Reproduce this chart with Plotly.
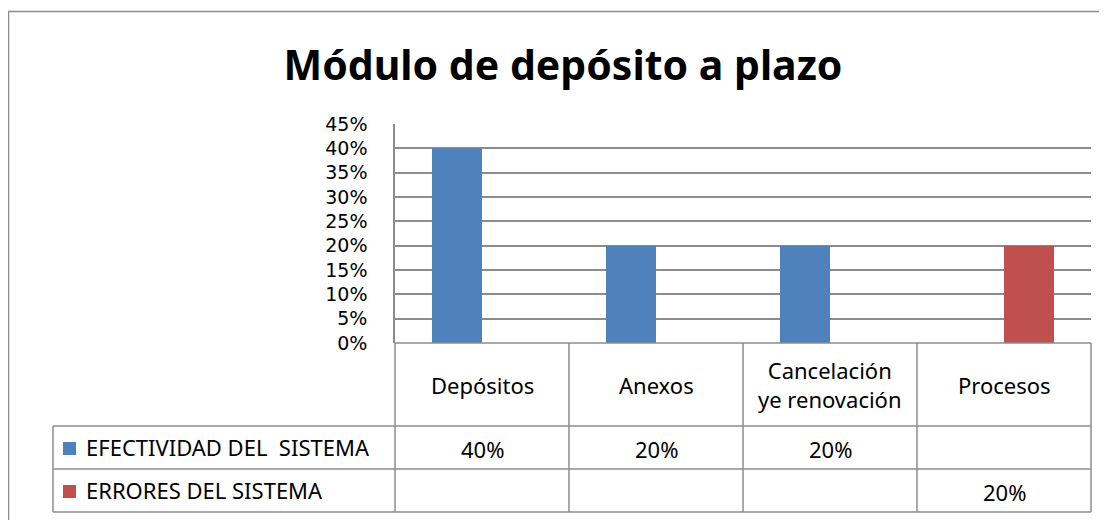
import plotly.graph_objects as go

# ---- data ----
categories = ["Depósitos", "Anexos", "Cancelación<br>ye renovación", "Procesos"]
series_names = ["EFECTIVIDAD DEL  SISTEMA", "ERRORES DEL SISTEMA"]
efectividad = [0.40, 0.20, 0.20, None]
errores = [None, None, None, 0.20]
tick_vals = [0, 0.05, 0.10, 0.15, 0.20, 0.25, 0.30, 0.35, 0.40, 0.45]
tick_text = ["0%", "5%", "10%", "15%", "20%", "25%", "30%", "35%", "40%", "45%"]
title_text = "Módulo de depósito a plazo"

colors = ["#4F81BD", "#C0504D"]
FONT = "Noto Sans"
GRID = "#8c8c8c"

# page body has an 8px margin: work in screen pixels, convert to figure pixels
OFF = 8
W, H = 1107 - OFF, 520 - OFF
L, R, T, B = 395, 1091, 124, 343  # screen pixels of plot area


def px(x):
    return (x - L) / (R - L)


def py(y):
    return (B - y) / (B - T)


x_idx = list(range(len(categories)))
fig = go.Figure()
for name, vals, col in zip(series_names, [efectividad, errores], colors):
    fig.add_trace(go.Bar(x=x_idx, y=vals, name=name, marker_color=col,
                         marker_line_width=0, showlegend=False))

shapes = []
annotations = []
n = len(categories)
rows_y = [343, 426, 469, 512]
leg_left = 53
TS = 22

# outer chart border
shapes.append(dict(type="rect", xref="paper", yref="paper",
                   x0=px(8.5), x1=px(1130), y0=py(11.5), y1=py(560),
                   line=dict(color="#8c8c8c", width=1.5)))

# vertical column lines of table
for i in range(n + 1):
    xb = px(L + (R - L) * i / n)
    shapes.append(dict(type="line", xref="paper", yref="paper",
                       x0=xb, x1=xb, y0=py(rows_y[0]), y1=py(rows_y[3]),
                       line=dict(color=GRID, width=1.5)))
shapes.append(dict(type="line", xref="paper", yref="paper",
                   x0=px(leg_left), x1=px(leg_left), y0=py(rows_y[1]), y1=py(rows_y[3]),
                   line=dict(color=GRID, width=1.5)))
for k, yy in enumerate(rows_y):
    x0 = px(L) if k == 0 else px(leg_left)
    shapes.append(dict(type="line", xref="paper", yref="paper",
                       x0=x0, x1=px(R), y0=py(yy), y1=py(yy),
                       line=dict(color=GRID, width=1.5)))

# header category labels
for i, c in enumerate(categories):
    xc = px(L + (R - L) * (i + 0.5) / n)
    annotations.append(dict(xref="paper", yref="paper", x=xc,
                            y=py((rows_y[0] + rows_y[1]) / 2), text=c,
                            showarrow=False, xanchor="center", yanchor="middle",
                            font=dict(family=FONT, size=TS, color="black")))

# data rows
for r, (name, vals, col) in enumerate(zip(series_names, [efectividad, errores], colors)):
    yc = (rows_y[r + 1] + rows_y[r + 2]) / 2
    shapes.append(dict(type="rect", xref="paper", yref="paper",
                       x0=px(63), x1=px(76), y0=py(yc + 1 - 6.5), y1=py(yc + 1 + 6.5),
                       fillcolor=col, line=dict(width=0)))
    annotations.append(dict(xref="paper", yref="paper", x=px(84), y=py(yc - 1),
                            text=name, showarrow=False, xanchor="left", yanchor="middle",
                            font=dict(family=FONT, size=TS, color="black")))
    for i, v in enumerate(vals):
        if v is None:
            continue
        xc = px(L + (R - L) * (i + 0.5) / n)
        annotations.append(dict(xref="paper", yref="paper", x=xc, y=py(yc + 1),
                                text=f"{v:.0%}", showarrow=False,
                                xanchor="center", yanchor="middle",
                                font=dict(family=FONT, size=TS, color="black")))

fig.update_layout(
    width=W, height=H,
    margin=dict(l=L - OFF, r=W - (R - OFF), t=T - OFF, b=H - (B - OFF)),
    paper_bgcolor="white", plot_bgcolor="white",
    barmode="group", bargap=0.425, bargroupgap=0,
    title=dict(text=f"<b>{title_text}</b>", xref="container", yref="container",
               x=(563 - OFF) / W, y=1 - (66 - OFF) / H, xanchor="center", yanchor="middle",
               font=dict(family=FONT, size=41, color="black")),
    xaxis=dict(range=[-0.5, n - 0.5], showticklabels=False, showgrid=False,
               zeroline=False, showline=False, fixedrange=True),
    yaxis=dict(range=[0, 0.45], tickvals=tick_vals, ticktext=tick_text,
               showgrid=True, gridcolor=GRID, gridwidth=1.5,
               zeroline=False, showline=True, linecolor=GRID, linewidth=1.5,
               ticks="", ticklabelstandoff=22,
               tickfont=dict(family="DejaVu Sans", size=19, color="black")),
    shapes=shapes, annotations=annotations,
    font=dict(family=FONT, color="black"),
)

fig.write_html("out.html")
